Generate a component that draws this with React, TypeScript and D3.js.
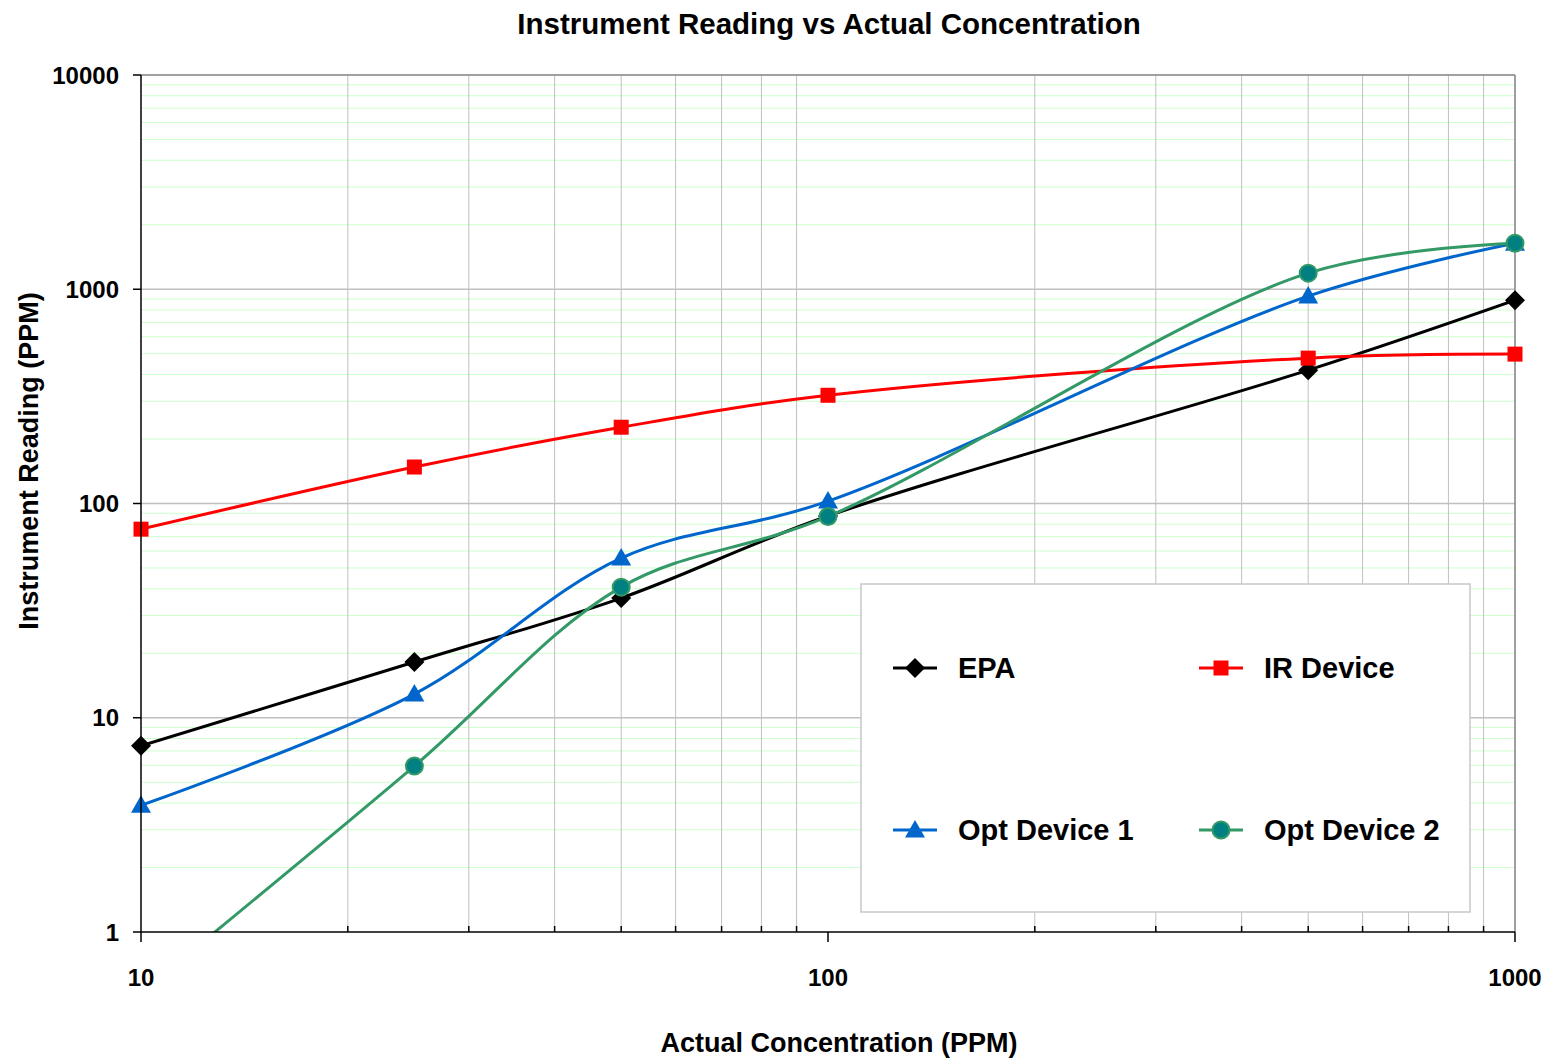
import React from "react";
import * as d3 from "d3";

const concentrations = [10, 25, 50, 100, 500, 1000];
const epaValues = [7.4, 18.2, 36.2, 87.4, 419, 889];
const irValues = [75.9, 148, 227, 320, 477, 498];
const opt1Values = [3.9, 12.9, 55.6, 102.6, 929, 1641];
const opt2Values = [0.52, 5.95, 40.7, 87, 1189, 1641];

const seriesNames = ["EPA", "IR Device", "Opt Device 1", "Opt Device 2"];
const xTickLabels = [10, 100, 1000];
const yTickLabels = [1, 10, 100, 1000, 10000];

const W = 1549;
const H = 1059;
const left = 141, right = 1515, top = 75, bottom = 932;
const FONT = "'Liberation Sans', Arial, Helvetica, sans-serif";

const xScale = d3.scaleLog().domain([10, 1000]).range([left, right]);
const yScale = d3.scaleLog().domain([1, 10000]).range([bottom, top]);

const series = [
  { name: seriesNames[0], values: epaValues, color: "#000000", marker: "diamond" },
  { name: seriesNames[1], values: irValues, color: "#FF0000", marker: "square" },
  { name: seriesNames[2], values: opt1Values, color: "#0066CC", marker: "triangle" },
  { name: seriesNames[3], values: opt2Values, color: "#339966", marker: "circle" },
];

function Marker({ type, x, y, color }: { type: string; x: number; y: number; color: string }) {
  if (type === "diamond") {
    const r = 10;
    return <path d={`M${x},${y - r}L${x + r},${y}L${x},${y + r}L${x - r},${y}Z`} fill={color} />;
  }
  if (type === "square") {
    const s = 7.5;
    return <rect x={x - s} y={y - s} width={2 * s} height={2 * s} fill={color} />;
  }
  if (type === "triangle") {
    const r = 10;
    return <path d={`M${x},${y - r}L${x + r},${y + 7.5}L${x - r},${y + 7.5}Z`} fill={color} />;
  }
  return <circle cx={x} cy={y} r={8.5} fill="#008080" stroke={color} strokeWidth={2} />;
}

export default function App() {
  const line = d3
    .line<[number, number]>()
    .x((d) => xScale(d[0]))
    .y((d) => yScale(d[1]))
    .curve(d3.curveCatmullRom.alpha(0.5));

  const minorVals: number[] = [];
  for (let dec = 1; dec <= 1000; dec *= 10) {
    for (let m = 2; m <= 9; m++) minorVals.push(m * dec);
  }
  const xMinor = minorVals.filter((v) => v > 10 && v < 1000);
  const yMinor = minorVals.filter((v) => v > 1 && v < 10000);

  const legendItems = [
    { s: series[0], lx: 893, ly: 668 },
    { s: series[1], lx: 1199, ly: 668 },
    { s: series[2], lx: 893, ly: 830 },
    { s: series[3], lx: 1199, ly: 830 },
  ];

  return (
    <svg width={W} height={H} style={{ position: "absolute", left: 0, top: 0, background: "#fff" }} fontFamily={FONT}>
      <defs>
        <clipPath id="plotClip">
          <rect x={left} y={top} width={right - left} height={bottom - top} />
        </clipPath>
      </defs>
      <rect x={0} y={0} width={W} height={H} fill="#fff" />
      {yMinor.map((v) => (
        <line key={"ym" + v} x1={left} x2={right} y1={yScale(v)} y2={yScale(v)} stroke="#ccffcc" strokeWidth={1} />
      ))}
      {xMinor.map((v) => (
        <line key={"xm" + v} x1={xScale(v)} x2={xScale(v)} y1={top} y2={bottom} stroke="#c0c0c0" strokeWidth={1} />
      ))}
      {yTickLabels.slice(1, 4).map((v) => (
        <line key={"yM" + v} x1={left} x2={right} y1={yScale(v)} y2={yScale(v)} stroke="#c0c0c0" strokeWidth={1.5} />
      ))}
      <line x1={left} x2={right} y1={top} y2={top} stroke="#808080" strokeWidth={1.5} />
      <line x1={right} x2={right} y1={top} y2={bottom} stroke="#808080" strokeWidth={1.5} />

      <rect x={861} y={584} width={609} height={328} fill="#fff" stroke="#c8c8c8" strokeWidth={1.5} />

      <g clipPath="url(#plotClip)">
        {series.map((s) => (
          <path
            key={s.name}
            d={line(concentrations.map((c, i) => [c, s.values[i]] as [number, number])) || ""}
            fill="none"
            stroke={s.color}
            strokeWidth={3}
          />
        ))}
      </g>
      {series.map((s) =>
        concentrations.map((c, i) => {
          const v = s.values[i];
          if (v < 1) return null;
          return <Marker key={s.name + c} type={s.marker} x={xScale(c)} y={yScale(v)} color={s.color} />;
        })
      )}

      <line x1={left} x2={left} y1={top} y2={bottom} stroke="#000" strokeWidth={1.5} />
      <line x1={left} x2={right} y1={bottom} y2={bottom} stroke="#000" strokeWidth={1.5} />
      {yTickLabels.map((v) => (
        <g key={"yt" + v}>
          <line x1={left - 8} x2={left} y1={yScale(v)} y2={yScale(v)} stroke="#000" strokeWidth={1.5} />
          <text x={119} y={yScale(v)} dy="0.36em" textAnchor="end" fontSize={24} fontWeight="bold">
            {v}
          </text>
        </g>
      ))}
      {xMinor.map((v) => (
        <line key={"xt" + v} x1={xScale(v)} x2={xScale(v)} y1={bottom - 6} y2={bottom} stroke="#000" strokeWidth={1.5} />
      ))}
      {xTickLabels.map((v) => (
        <g key={"xT" + v}>
          <line x1={xScale(v)} x2={xScale(v)} y1={bottom} y2={bottom + 10} stroke="#000" strokeWidth={1.5} />
          <text x={xScale(v)} y={977} dy="0.36em" textAnchor="middle" fontSize={24} fontWeight="bold">
            {v}
          </text>
        </g>
      ))}

      {legendItems.map(({ s, lx, ly }) => (
        <g key={"lg" + s.name}>
          <line x1={lx} x2={lx + 44} y1={ly} y2={ly} stroke={s.color} strokeWidth={3} />
          <Marker type={s.marker} x={lx + 22} y={ly} color={s.color} />
          <text x={lx + 65} y={ly} dy="0.36em" fontSize={29} fontWeight="bold">
            {s.name}
          </text>
        </g>
      ))}

      <text x={829} y={23} dy="0.36em" textAnchor="middle" fontSize={29.5} fontWeight="bold">
        Instrument Reading vs Actual Concentration
      </text>
      <text x={839} y={1042} dy="0.36em" textAnchor="middle" fontSize={27} fontWeight="bold">
        Actual Concentration (PPM)
      </text>
      <text
        transform={`translate(28,461) rotate(-90)`}
        dy="0.36em"
        textAnchor="middle"
        fontSize={27}
        fontWeight="bold"
      >
        Instrument Reading (PPM)
      </text>
    </svg>
  );
}
